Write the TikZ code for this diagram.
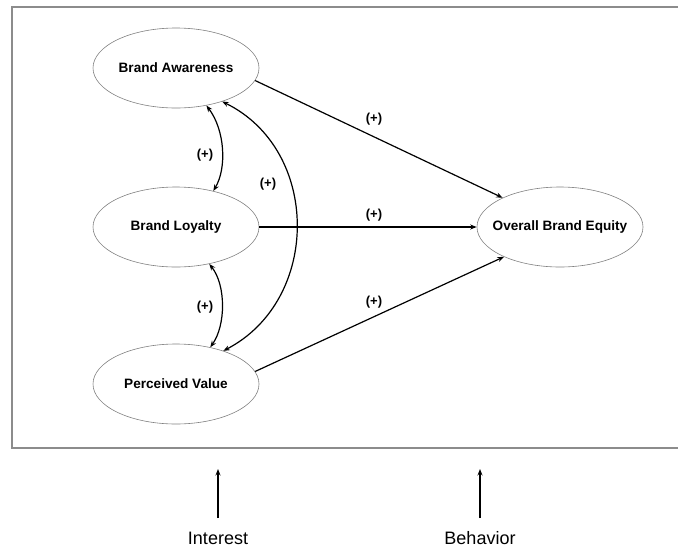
\documentclass[tikz,border=0pt]{standalone}
\usepackage{fontspec}
\setmainfont{Liberation Sans}
\usetikzlibrary{arrows.meta,shapes.geometric}
\newcommand{\ctxt}[1]{\makebox[0pt]{#1}}
\begin{document}
\begin{tikzpicture}[x=1pt,y=-1pt,
  construct/.style={draw=black!50, line width=0.6pt, ellipse, minimum width=166pt, minimum height=80pt, inner sep=0pt, font=\bfseries\fontsize{13.6}{15}\selectfont},
  conn/.style={line width=1.2pt, -{Stealth[length=6.5pt,width=5pt]}},
  biarrow/.style={line width=1.2pt, {Stealth[length=6.5pt,width=5pt]}-{Stealth[length=6.5pt,width=5pt]}},
  sign/.style={font=\bfseries\fontsize{13}{15}\selectfont, inner sep=0pt},
  stage/.style={font=\fontsize{18}{20}\selectfont, inner sep=0pt},
  frame/.style={draw=black!45, line width=1.2pt}
]
\useasboundingbox (0,0) rectangle (678,547);
\draw[frame] (680,7) -- (12,7) -- (12,448) -- (680,448);

\node[construct] (ba) at (176,68) {\ctxt{Brand Awareness}};
\node[construct] (bl) at (176,227) {\ctxt{Brand Loyalty}};
\node[construct] (pv) at (176,384) {\ctxt{Perceived Value}};
\node[construct] (obe) at (560,227) {\ctxt{Overall Brand Equity}};

\draw[conn] (ba.-9) -- (obe.153);
\draw[conn] (bl.east) -- (obe.west);
\draw[conn] (pv.9) -- (obe.-152);

\draw[biarrow] (ba.-51) .. controls (225,130) and (227,168) .. (bl.44);
\draw[biarrow] (bl.-48) .. controls (226,285) and (226,325) .. (pv.47);
\draw[biarrow] (ba.-36) .. controls (321,150) and (321,300) .. (pv.35);

\node[sign] (s1) at (205,155) {(+)};
\node[sign] (s2) at (268,184) {(+)};
\node[sign] (s3) at (205,307) {(+)};
\node[sign] (s4) at (374,119) {(+)};
\node[sign] (s5) at (374,215) {(+)};
\node[sign] (s6) at (374,302) {(+)};

\node[stage] (interest) at (218,538) {Interest};
\node[stage] (behavior) at (480,538) {Behavior};
\coordinate (i0) at (218,518);
\coordinate (i1) at (218,469);
\coordinate (b0) at (480,518);
\coordinate (b1) at (480,469);
\draw[conn] (i0) -- (i1);
\draw[conn] (b0) -- (b1);
\end{tikzpicture}
\end{document}
